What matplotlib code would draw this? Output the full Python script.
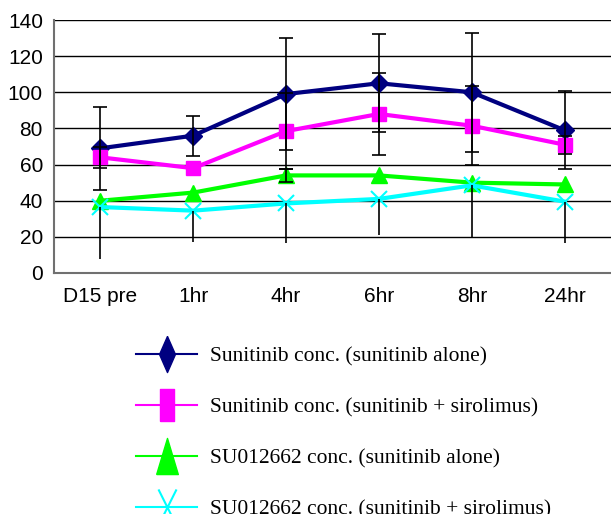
import numpy as np
import matplotlib
matplotlib.use("Agg")
import matplotlib.pyplot as plt
from matplotlib.path import Path
from matplotlib.lines import Line2D

# ---- data ----
times = ['D15 pre', '1hr', '4hr', '6hr', '8hr', '24hr']
sun_alone = [69, 76, 99, 105, 100, 79]
sun_alone_err = [23, 11, 31, 27, 33, 21.5]
sun_siro = [64, 58, 78.5, 88, 81.5, 71]
sun_siro_err = [6, 0, 21, 22.5, 22, 5]
su_alone = [40, 44.5, 54, 54, 50, 49]
su_alone_err = [0, 0, 3.5, 0, 0, 0]
su_siro = [36.5, 34.5, 38.5, 41, 48.5, 39.5]
su_siro_err_lo = [28.5, 17.5, 22, 20, 29, 23]

labels = ['Sunitinib conc. (sunitinib alone)',
          'Sunitinib conc. (sunitinib + sirolimus)',
          'SU012662 conc. (sunitinib alone)',
          'SU012662 conc. (sunitinib + sirolimus)']
cols = ['#000080', '#ff00ff', '#00ff00', '#00ffff']

fig = plt.figure(figsize=(6.11, 5.14), dpi=100)
ax = fig.add_axes([54/611, 1-273/514, 1-54/611, 253/514])
x = np.arange(len(times))

# lines + markers
ax.plot(x, sun_alone, color=cols[0], lw=3, marker='D', ms=9, zorder=3)
ax.plot(x, sun_siro, color=cols[1], lw=3, marker='s', ms=10, zorder=3)
ax.plot(x, su_alone, color=cols[2], lw=3, marker='^', ms=12, zorder=3)
ax.plot(x, su_siro, color=cols[3], lw=3, marker='x', ms=11, mew=1.5, zorder=3)

# error bars on top (skip zero-size ones so no cap lands on a marker)
ekw = dict(fmt='none', ecolor='black', elinewidth=1.2, capsize=5, capthick=1.2, zorder=4)
for ys, es in [(sun_alone, sun_alone_err), (sun_siro, sun_siro_err), (su_alone, su_alone_err)]:
    ys = np.array(ys); es = np.array(es); k = es > 0
    ax.errorbar(x[k], ys[k], yerr=es[k], **ekw)
ax.errorbar(x, su_siro, yerr=[su_siro_err_lo, [0]*6], fmt='none', ecolor='black',
            elinewidth=1.2, capsize=0, zorder=4)

ax.set_xlim(-0.5, 5.5)
ax.set_ylim(0, 140)
ax.set_yticks(range(0, 141, 20))
ax.set_xticks(x)
ax.set_xticklabels(times)
ax.yaxis.grid(True, color='black', lw=1)
ax.set_axisbelow(True)
for s in ['top', 'right']:
    ax.spines[s].set_visible(False)
for s in ['left', 'bottom']:
    ax.spines[s].set_color('#707070')
    ax.spines[s].set_linewidth(1.5)
ax.tick_params(length=0, labelsize=15, pad=8)
ax.tick_params(axis='x', pad=10)
for t in ax.get_xticklabels() + ax.get_yticklabels():
    t.set_family('Liberation Sans')

# legend with tall stretched markers
diamond = Path([(0, 0.5), (0.22, 0), (0, -0.5), (-0.22, 0), (0, 0.5)])
rect = Path([(-0.21, -0.5), (0.21, -0.5), (0.21, 0.5), (-0.21, 0.5), (-0.21, -0.5)])
tri = Path([(-0.3, -0.5), (0.3, -0.5), (0, 0.5), (-0.3, -0.5)])
xm = Path([(-0.25, -0.5), (0.25, 0.5), (0.25, -0.5), (-0.25, 0.5)],
          [Path.MOVETO, Path.LINETO, Path.MOVETO, Path.LINETO])
handles = [
    Line2D([], [], color=cols[0], lw=1.5, marker=diamond, ms=26),
    Line2D([], [], color=cols[1], lw=1.5, marker=rect, ms=23),
    Line2D([], [], color=cols[2], lw=1.5, marker=tri, ms=26),
    Line2D([], [], color=cols[3], lw=1.5, marker=xm, ms=26, mew=1.5),
]
fig.legend(handles, labels, loc='upper left', bbox_to_anchor=(136/611, 1-346/514),
           frameon=False, borderpad=0, borderaxespad=0, handlelength=2.85,
           handletextpad=0.6, labelspacing=1.45,
           prop={'family': 'Liberation Serif', 'size': 15.5})

fig.savefig('out.png', dpi=100)
